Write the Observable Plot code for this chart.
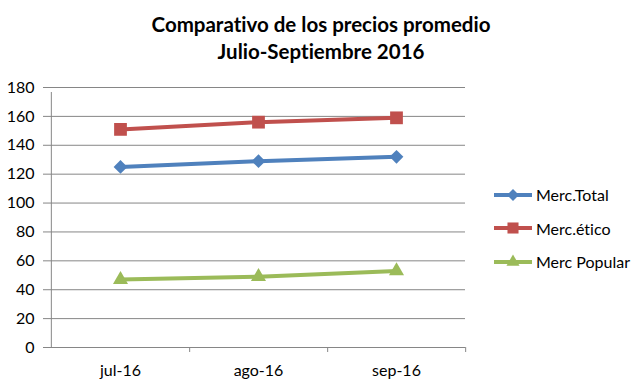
<!DOCTYPE html>
<html><head><meta charset="utf-8">
<script src="https://cdn.jsdelivr.net/npm/d3@7"></script>
<script src="https://cdn.jsdelivr.net/npm/@observablehq/plot@0.6"></script>
<style>
body{margin:0;background:#fff;font-family:Lato,"Open Sans",sans-serif;font-variant-ligatures:none;font-feature-settings:"liga" 0,"clig" 0;}
#wrap{position:relative;width:642px;height:388px;overflow:hidden;}
#title{position:absolute;left:0;top:11px;width:642px;text-align:center;font-weight:bold;font-size:20.5px;line-height:27px;color:#000;}
#legend{position:absolute;left:493px;top:178px;font-size:16px;color:#000;}
.item{display:flex;align-items:center;height:33.5px;}
.item svg{margin-right:3px;}
svg text{font-variant-ligatures:none;font-feature-settings:"liga" 0,"clig" 0;}
</style></head>
<body>
<div id="wrap">
<div id="title">Comparativo de los precios promedio<br>Julio-Septiembre 2016</div>
<div id="chart"></div>
<div id="legend"></div>
</div>
<script>
const months = ["jul-16", "ago-16", "sep-16"];
const seriesNames = ["Merc.Total", "Merc.ético", "Merc Popular"];
const total = [125, 129, 132];
const etico = [151, 156, 159];
const popular = [47, 49, 53];
const yTicks = [0, 20, 40, 60, 80, 100, 120, 140, 160, 180];
const colors = ["#4F81BD", "#C0504D", "#9BBB59"];
const symbols = ["diamond2", "square", "triangle"];
const radii = [6.2, 7.2, 5.6];

const valuesList = [total, etico, popular];
const data = seriesNames.flatMap((s, si) => months.map((m, i) => ({series: s, month: m, value: valuesList[si][i]})));

const W = 642, H = 388, mL = 50, mR = 177, mT = 87, mB = 41;
const step = (W - mL - mR) / months.length;

const marks = [
  Plot.ruleY(yTicks, {stroke: "#868686", strokeWidth: 1}),
  Plot.axisY({ticks: yTicks, tickSize: 7, tickPadding: 9, stroke: "#868686", fontSize: 16, fill: "#000", label: null}),
  Plot.ruleX([0], {x: () => months[0], dx: -step/2, y1: 0, y2: 180, stroke: "#868686", insetBottom: -5}),
  Plot.ruleX(months, {x: d => d, dx: step/2, y1: 0, y2: 0, stroke: "#868686", insetBottom: -5}),
  Plot.axisX({tickSize: 0, tickPadding: 17, fontSize: 16, fill: "#000", label: null}),
];
seriesNames.forEach((s, si) => {
  const d = data.filter(r => r.series === s);
  marks.push(Plot.line(d, {x: "month", y: "value", stroke: colors[si], strokeWidth: 4}));
  marks.push(Plot.dot(d, {x: "month", y: "value", fill: colors[si], symbol: symbols[si], r: radii[si], stroke: "none"}));
});

const chart = Plot.plot({
  width: W, height: H,
  marginLeft: mL, marginRight: mR, marginTop: mT, marginBottom: mB,
  style: {fontFamily: "Lato, 'Open Sans', sans-serif", background: "transparent"},
  x: {type: "point", domain: months, padding: 0.5},
  y: {domain: [0, 180]},
  marks
});
document.getElementById("chart").appendChild(chart);

const legend = document.getElementById("legend");
seriesNames.forEach((s, si) => {
  const item = document.createElement("div");
  item.className = "item";
  const sym = d3.symbol(symbols[si] === "diamond2" ? d3.symbolDiamond2 : symbols[si] === "square" ? d3.symbolSquare : d3.symbolTriangle, Math.PI * radii[si] * radii[si] * 0.75)();
  item.innerHTML = `<svg width="40" height="16"><line x1="1" x2="39" y1="8" y2="8" stroke="${colors[si]}" stroke-width="4"/><path transform="translate(20,8)" d="${sym}" fill="${colors[si]}"/></svg><span>${s}</span>`;
  legend.appendChild(item);
});
</script>
</body></html>
